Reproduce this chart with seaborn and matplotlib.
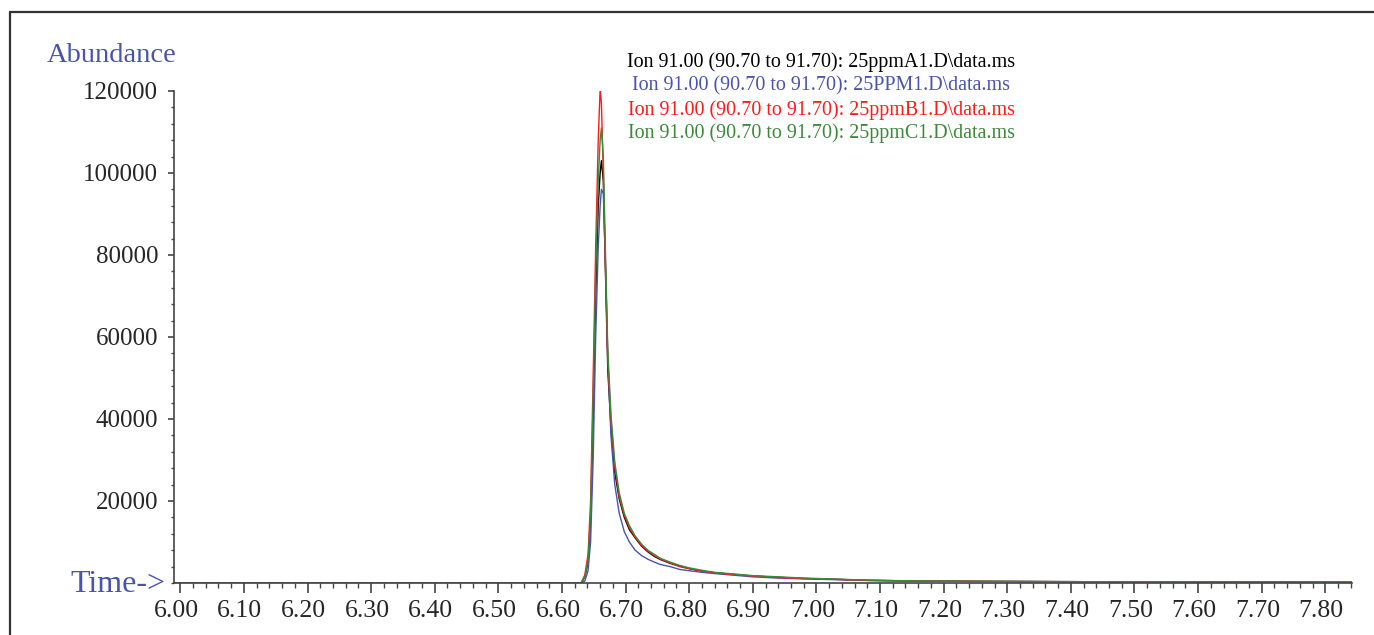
import numpy as np
import pandas as pd
import seaborn as sns
import matplotlib.pyplot as plt
import matplotlib.transforms as mtransforms
from matplotlib.ticker import MultipleLocator
from matplotlib.lines import Line2D

time = [5.99, 6.50, 6.630, 6.636, 6.641, 6.645, 6.649, 6.653, 6.657, 6.660,
        6.662, 6.665, 6.668, 6.672, 6.677, 6.683, 6.690, 6.698, 6.706, 6.715,
        6.725, 6.735, 6.745, 6.755, 6.770, 6.785, 6.800, 6.820, 6.840, 6.870,
        6.900, 6.940, 6.980, 7.030, 7.080, 7.150, 7.250, 7.350, 7.450, 7.550,
        7.650, 7.750, 7.842]

ab_A1 = [0, 0, 0, 1500, 5000, 15000, 40000, 70000, 92000, 100000,
         103000, 98000, 78000, 52000, 38000, 27000, 20500, 16000, 13000, 11000,
         9000, 7600, 6500, 5700, 4800, 4100, 3500, 2900, 2500, 2100,
         1700, 1400, 1100, 900, 650, 500, 400, 350, 300, 260,
         230, 200, 180]
ab_PPM1 = [0, 0, 0, 500, 3000, 10000, 30000, 60000, 82000, 92000,
           96000, 95000, 80000, 55000, 36000, 24000, 17000, 12500, 10000, 8000,
           6700, 5800, 5100, 4500, 4000, 3300, 3000, 2600, 2300, 1900,
           1500, 1200, 1000, 800, 600, 480, 380, 330, 290, 250,
           220, 200, 170]
ab_B1 = [0, 0, 0, 2000, 7000, 20000, 50000, 82000, 108000, 120500,
         117000, 100000, 80000, 55000, 40000, 28500, 21000, 16500, 13500, 11200,
         9200, 7800, 6700, 5800, 4900, 4000, 3500, 2900, 2500, 2000,
         1700, 1300, 1100, 900, 650, 500, 400, 350, 300, 270,
         240, 220, 200]
ab_C1 = [0, 0, 0, 1500, 5500, 17000, 45000, 75000, 98000, 108000,
         111000, 104000, 83000, 57000, 41000, 29500, 22000, 17000, 14000, 11500,
         9500, 8000, 7000, 6000, 5100, 4300, 3700, 3100, 2600, 2200,
         1800, 1500, 1200, 950, 700, 520, 420, 360, 310, 270,
         240, 210, 190]

names = ["Ion 91.00 (90.70 to 91.70): 25ppmA1.D\\data.ms",
         "Ion 91.00 (90.70 to 91.70): 25PPM1.D\\data.ms",
         "Ion 91.00 (90.70 to 91.70): 25ppmB1.D\\data.ms",
         "Ion 91.00 (90.70 to 91.70): 25ppmC1.D\\data.ms"]
colors = ["#000000", "#4a54ae", "#ff1a1a", "#3a8a3a"]

x_ticks = [6.00, 6.10, 6.20, 6.30, 6.40, 6.50, 6.60, 6.70, 6.80, 6.90,
           7.00, 7.10, 7.20, 7.30, 7.40, 7.50, 7.60, 7.70, 7.80]
x_labels = ["%.2f" % v for v in x_ticks]
y_ticks = [20000, 40000, 60000, 80000, 100000, 120000]
y_labels = ["20000", "40000", "60000", "80000", "100000", "120000"]

frames = []
for n, a in zip(names, [ab_A1, ab_PPM1, ab_B1, ab_C1]):
    frames.append(pd.DataFrame({"time": time, "abundance": a, "file": n}))
df = pd.concat(frames, ignore_index=True)

sns.set_style("ticks")
plt.rcParams['font.family'] = ['Liberation Serif', 'DejaVu Serif']

fig = plt.figure(figsize=(13.74, 6.35), dpi=100)
ax = fig.add_axes([0.1266, 0.0819, 0.8574, 0.7748])

sns.lineplot(data=df, x="time", y="abundance", hue="file", hue_order=names,
             palette=colors, linewidth=1.0, legend=False, ax=ax, sort=False)

ax.set_xlim(5.99, 7.842)
ax.set_ylim(0, 120000)
ax.set_xticks(x_ticks)
ax.set_xticklabels(x_labels, fontsize=18.5)
ax.set_yticks(y_ticks)
ax.set_yticklabels(y_labels, fontsize=18)
ax.xaxis.set_minor_locator(MultipleLocator(0.02))
ax.yaxis.set_minor_locator(MultipleLocator(4000))
ax.tick_params(axis='x', which='major', length=7.2, width=1.2, pad=5, color='#444444')
ax.tick_params(axis='x', which='minor', length=3.6, width=1.0, color='#444444')
ax.tick_params(axis='y', which='major', length=4.3, width=1.2, pad=7, color='#444444')
ax.tick_params(axis='y', which='minor', length=2.2, width=1.0, color='#444444')
ax.set_xlabel("")
ax.set_ylabel("")
sns.despine(ax=ax)
for s in ['left', 'bottom']:
    ax.spines[s].set_color('#444444')
    ax.spines[s].set_linewidth(1.2)

# x labels sit a little left of their ticks in the original
shift = mtransforms.ScaledTranslation(-4 / 100, 0, fig.dpi_scale_trans)
for lab in ax.get_xticklabels():
    lab.set_transform(lab.get_transform() + shift)

blue = "#4a54ae"
fig.text(47 / 1374, 1 - 56 / 635, "Abundance", color=blue, fontsize=20.5,
         ha='left', va='center')
fig.text(165 / 1374, 1 - 585 / 635, "Time->", color=blue, fontsize=23,
         ha='right', va='center')

for i, (n, c) in enumerate(zip(names, colors)):
    fig.text(821 / 1374, 1 - (62.5 + 23.7 * i) / 635, n, color=c, fontsize=14.4,
             ha='center', va='center')

# outer frame (only top and left edges visible)
fig.add_artist(Line2D([10 / 1374, 1.0], [1 - 12 / 635, 1 - 12 / 635],
                      transform=fig.transFigure, color='#333333', linewidth=1.6))
fig.add_artist(Line2D([10 / 1374, 10 / 1374], [0.0, 1 - 12 / 635],
                      transform=fig.transFigure, color='#333333', linewidth=1.6))

fig.savefig("out.png", dpi=100)
